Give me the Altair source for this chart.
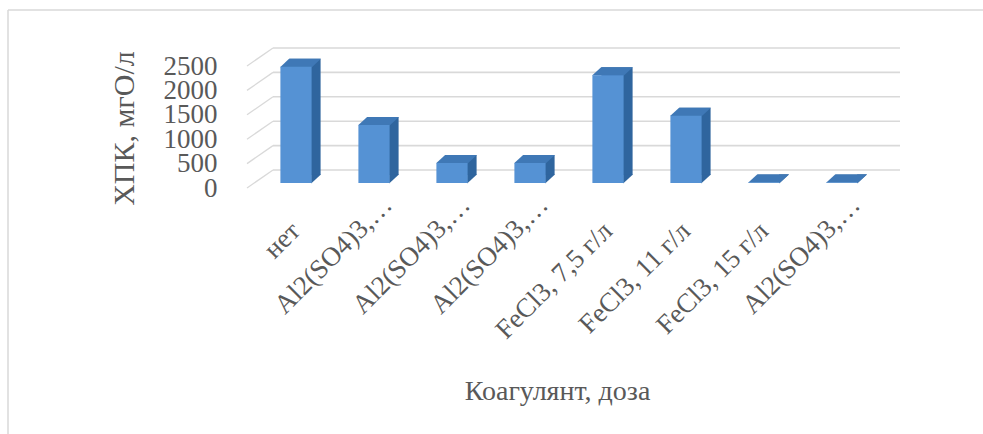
import altair as alt
import pandas as pd

# ---- data ----
categories = ["нет", "Al2(SO4)3,…", "Al2(SO4)3,…", "Al2(SO4)3,…",
              "FeCl3, 7,5 г/л", "FeCl3, 11 г/л", "FeCl3, 15 г/л", "Al2(SO4)3,…"]
values = [2380, 1190, 410, 410, 2210, 1380, 10, 10]
y_ticks = [0, 500, 1000, 1500, 2000, 2500]
y_title = "ХПК, мгО/л"
x_title = "Коагулянт, доза"

# ---- style ----
FONT = "Liberation Serif"
TXT = "#595959"
GRID = "#d9d9d9"
FRONT = "#5592d4"
SIDE = "#2f659e"
TOP = "#3f78b6"
W, H = 624, 122
PAD_L, PAD_T = 257, 61
P_IN, P_OUT = 0.6, 0.3
step = W / (len(categories) - P_IN + 2 * P_OUT)
bw = step * (1 - P_IN)
DX, DY = 9, 8          # depth of the pseudo-3D bars
U = 16                 # px per unit of a custom symbol path


def path(pts):
    return "M" + " L".join(f"{x / U:.3f},{y / U:.3f}" for x, y in pts) + " Z"


top_shape = path([(-bw / 2 - 0.3, 0.3), (bw / 2 + 0.3, 0.3), (bw / 2 + DX + 0.3, -DY), (-bw / 2 + DX - 0.3, -DY)])
tri_shape = path([(bw / 2 - 0.5, 0.5), (bw / 2 - 0.5, -DY - 0.5), (bw / 2 + DX + 0.3, -DY - 0.5)])

df = pd.DataFrame({
    "idx": list(range(len(categories))),
    "value": values,
    "label": categories,
    "trunc": [c.endswith("…") for c in categories],
})
ticks_df = pd.DataFrame({"t": y_ticks})

xscale = alt.Scale(paddingInner=P_IN, paddingOuter=P_OUT)
yscale = alt.Scale(domain=[0, 2500], nice=False)

x_axis = alt.Axis(labels=False, domain=False, ticks=False, grid=False,
                  titleFont=FONT, titleFontSize=28, titleColor=TXT,
                  titleFontWeight="normal", titleX=300, titleY=208,
                  titleBaseline="middle", titleAlign="center")
y_axis = alt.Axis(values=y_ticks, format="d", labelOverlap=False, grid=False,
                  domain=False, ticks=False,
                  labelFont=FONT, labelFontSize=27, labelColor=TXT,
                  labelPadding=40, labelOffset=5, labelBaseline="middle",
                  titleFont=FONT, titleFontSize=30, titleColor=TXT,
                  titleFontWeight="normal", titleAngle=270,
                  titleX=-133, titleY=67, titleAlign="center",
                  titleBaseline="middle")


def X():
    return alt.X("idx:O", scale=xscale, title=x_title, axis=x_axis)


def Y(field):
    return alt.Y(field, scale=yscale, title=y_title, axis=y_axis)


# outer frame (anchored to the zero line of the value scale)
base0 = alt.Chart(ticks_df).transform_filter("datum.t == 0")
frame_top = base0.mark_rule(color=GRID, strokeWidth=1.5, yOffset=10 - PAD_T - H).encode(
    y=Y("t:Q"), x=alt.value(-PAD_L + 8), x2=alt.value(983 - PAD_L))
frame_left = base0.mark_rule(color=GRID, strokeWidth=1.5, yOffset=10 - PAD_T - H,
                             y2Offset=434 - PAD_T - H).encode(
    y=Y("t:Q"), y2="t:Q", x=alt.value(-PAD_L + 8), x2=alt.value(-PAD_L + 8))

# back wall grid lines
grid = alt.Chart(ticks_df).mark_rule(color=GRID, strokeWidth=1.6, yOffset=-13).encode(
    y=Y("t:Q"), x=alt.value(16), x2=alt.value(643))
# side wall slanted lines
slant = alt.Chart(ticks_df).mark_rule(color=GRID, strokeWidth=1.3, yOffset=5, y2Offset=-13).encode(
    y=Y("t:Q"), y2="t:Q", x=alt.value(-10), x2=alt.value(16))

base = alt.Chart(df).transform_calculate(zero="0")

back = base.mark_bar(color=SIDE, xOffset=DX, yOffset=-DY, y2Offset=-DY).encode(
    x=X(), y=Y("value:Q"), y2="zero:Q")

tri = base.mark_point(shape=tri_shape, size=(2 * U) ** 2, filled=True, color=SIDE,
                      opacity=1, strokeWidth=0).encode(x=X(), y=Y("zero:Q"))

top = base.mark_point(shape=top_shape, size=(2 * U) ** 2, filled=True, color=TOP,
                      opacity=1, strokeWidth=0).encode(x=X(), y=Y("value:Q"))

front = base.mark_bar(color=FRONT).encode(x=X(), y=Y("value:Q"), y2="zero:Q")

# category labels (rotated); truncated ones sit a little higher/right as in the original
lab_kw = dict(angle=315, align="right", baseline="middle", font=FONT, fontSize=27, color=TXT)
labels_full = base.transform_filter("!datum.trunc").mark_text(xOffset=0, yOffset=44, **lab_kw).encode(
    x=X(), y=Y("zero:Q"), text="label:N")
labels_trunc = base.transform_filter("datum.trunc").mark_text(xOffset=14, yOffset=18, **lab_kw).encode(
    x=X(), y=Y("zero:Q"), text="label:N")

chart = alt.layer(frame_top, frame_left, grid, slant, back, tri, top, front,
                  labels_full, labels_trunc).properties(
    width=W, height=H,
    autosize=alt.AutoSizeParams(type="none"),
    padding={"left": PAD_L, "top": PAD_T, "right": 983 - PAD_L - W, "bottom": 434 - PAD_T - H},
    background="white",
).configure_view(stroke="transparent")

chart.save("out.html", embed_options={"renderer": "svg", "actions": False})
